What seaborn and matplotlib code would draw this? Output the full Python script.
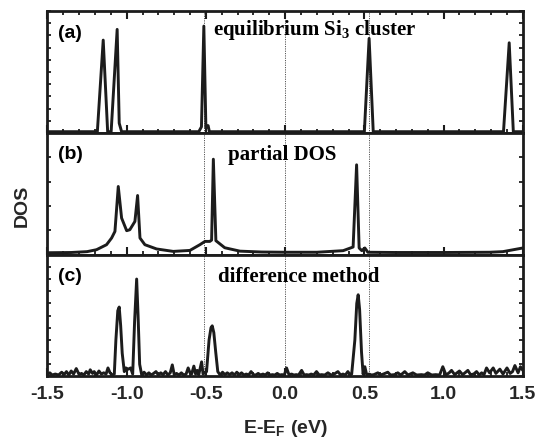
import matplotlib
matplotlib.use("Agg")
import matplotlib.pyplot as plt
from matplotlib.ticker import MultipleLocator
import seaborn as sns
import pandas as pd

# ---- spectra (energy relative to E_F in eV, normalised DOS) ----
a_energy = [-1.500, -1.185, -1.148, -1.120, -1.098, -1.060, -1.047, -1.032,
            -0.545, -0.528, -0.513, -0.500, -0.486, -0.478,
            0.500, 0.530, 0.556, 1.378, 1.414, 1.440, 1.500]
a_dos = [0.010, 0.010, 0.762, 0.010, 0.010, 0.850, 0.080, 0.010,
         0.010, 0.050, 0.877, 0.040, 0.060, 0.010,
         0.010, 0.776, 0.010, 0.010, 0.740, 0.010, 0.010]

b_energy = [-1.500, -1.350, -1.250, -1.190, -1.127, -1.095, -1.074, -1.053,
            -1.032, -1.000, -0.980, -0.948, -0.931, -0.916, -0.885, -0.811,
            -0.706, -0.601, -0.538, -0.506, -0.475, -0.464, -0.453, -0.437,
            -0.381, -0.285, -0.150, 0.000, 0.200, 0.366, 0.429, 0.451,
            0.467, 0.484, 0.503, 0.522, 0.700, 1.000, 1.290, 1.374, 1.500]
b_dos = [0.016, 0.018, 0.025, 0.041, 0.082, 0.137, 0.191, 0.560,
         0.301, 0.197, 0.205, 0.273, 0.486, 0.137, 0.082, 0.047,
         0.027, 0.035, 0.082, 0.109, 0.109, 0.120, 0.784, 0.115,
         0.057, 0.029, 0.022, 0.020, 0.020, 0.033, 0.063, 0.738,
         0.055, 0.033, 0.055, 0.020, 0.018, 0.018, 0.020, 0.025, 0.055]

c_energy = [-1.500, -1.485, -1.470, -1.450, -1.430, -1.410, -1.395, -1.380,
            -1.365, -1.350, -1.335, -1.318, -1.300, -1.285, -1.270, -1.255,
            -1.240, -1.230, -1.215, -1.205, -1.190, -1.175, -1.160, -1.145,
            -1.130, -1.118, -1.105, -1.090, -1.078, -1.068, -1.056, -1.047,
            -1.038, -1.028, -1.015, -1.005, -0.990, -0.975, -0.962, -0.950,
            -0.937, -0.928, -0.918, -0.905, -0.890, -0.875, -0.860, -0.845,
            -0.830, -0.815, -0.800, -0.785, -0.770, -0.755, -0.740, -0.725,
            -0.712, -0.700, -0.685, -0.670, -0.655, -0.640, -0.625, -0.612,
            -0.600, -0.590, -0.576, -0.565, -0.555, -0.545, -0.527, -0.518,
            -0.508, -0.496, -0.480, -0.468, -0.460, -0.450, -0.438, -0.425,
            -0.410, -0.395, -0.380, -0.365, -0.350, -0.335, -0.320, -0.305,
            -0.290, -0.275, -0.260, -0.245, -0.230, -0.215, -0.200, -0.185,
            -0.170, -0.155, -0.140, -0.125, -0.110, -0.095, -0.080, -0.065,
            -0.050, -0.035, -0.020, -0.005, 0.009, 0.025, 0.040, 0.055,
            0.070, 0.085, 0.104, 0.120, 0.135, 0.150, 0.165, 0.180,
            0.198, 0.215, 0.230, 0.250, 0.270, 0.290, 0.310, 0.333,
            0.350, 0.365, 0.380, 0.396, 0.410, 0.420, 0.440, 0.452,
            0.461, 0.470, 0.482, 0.492, 0.503, 0.515, 0.530, 0.545,
            0.560, 0.585, 0.600, 0.620, 0.648, 0.665, 0.690, 0.711,
            0.730, 0.755, 0.775, 0.806, 0.830, 0.860, 0.880, 0.900,
            0.925, 0.950, 0.975, 0.995, 1.015, 1.035, 1.050, 1.070,
            1.085, 1.100, 1.120, 1.135, 1.153, 1.170, 1.190, 1.208,
            1.225, 1.240, 1.255, 1.271, 1.290, 1.313, 1.330, 1.355,
            1.375, 1.400, 1.420, 1.435, 1.450, 1.470, 1.485, 1.500]
c_dos = [0.015, 0.030, 0.012, 0.020, 0.012, 0.035, 0.015, 0.040,
         0.012, 0.045, 0.020, 0.065, 0.015, 0.025, 0.012, 0.040,
         0.020, 0.055, 0.025, 0.040, 0.012, 0.045, 0.020, 0.030,
         0.020, 0.070, 0.030, 0.012, 0.020, 0.300, 0.540, 0.570,
         0.420, 0.190, 0.040, 0.070, 0.060, 0.070, 0.020, 0.450,
         0.800, 0.500, 0.100, 0.012, 0.035, 0.012, 0.030, 0.012,
         0.025, 0.040, 0.012, 0.030, 0.015, 0.040, 0.012, 0.030,
         0.095, 0.015, 0.025, 0.012, 0.030, 0.012, 0.020, 0.070,
         0.030, 0.020, 0.085, 0.020, 0.050, 0.015, 0.120, 0.020,
         0.030, 0.040, 0.300, 0.400, 0.416, 0.360, 0.200, 0.040,
         0.012, 0.035, 0.015, 0.030, 0.015, 0.030, 0.012, 0.035,
         0.015, 0.030, 0.012, 0.020, 0.012, 0.040, 0.015, 0.012,
         0.025, 0.012, 0.020, 0.012, 0.030, 0.012, 0.015, 0.012,
         0.025, 0.012, 0.015, 0.012, 0.070, 0.012, 0.020, 0.012,
         0.015, 0.012, 0.050, 0.012, 0.015, 0.012, 0.020, 0.012,
         0.040, 0.012, 0.015, 0.012, 0.030, 0.012, 0.020, 0.040,
         0.012, 0.020, 0.012, 0.040, 0.012, 0.020, 0.300, 0.600,
         0.671, 0.550, 0.200, 0.020, 0.080, 0.012, 0.020, 0.012,
         0.015, 0.030, 0.012, 0.020, 0.035, 0.012, 0.015, 0.030,
         0.012, 0.040, 0.012, 0.030, 0.012, 0.015, 0.012, 0.030,
         0.012, 0.015, 0.012, 0.080, 0.012, 0.030, 0.050, 0.015,
         0.030, 0.045, 0.015, 0.030, 0.050, 0.015, 0.020, 0.040,
         0.012, 0.030, 0.015, 0.070, 0.030, 0.070, 0.025, 0.060,
         0.020, 0.070, 0.025, 0.040, 0.090, 0.030, 0.080, 0.050]

panel_tags = ["(a)", "(b)", "(c)"]
panel_titles = [r"equilibrium Si$_\mathrm{3}$ cluster", "partial DOS",
                "difference method"]
reference_energies = [-0.51, 0.0, 0.53]
x_ticks = [-1.5, -1.0, -0.5, 0.0, 0.5, 1.0, 1.5]
x_tick_labels = ["-1.5", "-1.0", "-0.5", "0.0", "0.5", "1.0", "1.5"]

sns.set_style("ticks")
plt.rcParams["font.family"] = ["Liberation Sans", "DejaVu Sans"]
plt.rcParams["mathtext.fontset"] = "custom"
plt.rcParams["mathtext.rm"] = "Liberation Serif:bold"
plt.rcParams["mathtext.sf"] = "Liberation Sans:bold"

ink = "#1c1c1c"
fig = plt.figure(figsize=(5.39, 4.45), dpi=100)
gs = fig.add_gridspec(3, 1, left=0.088, right=0.970, top=0.975,
                      bottom=0.154, hspace=0.0)
axes = [fig.add_subplot(gs[i]) for i in range(3)]

spectra = [(a_energy, a_dos), (b_energy, b_dos), (c_energy, c_dos)]
y_steps = [0.1, 0.2, 0.1]
title_x = [-0.456, -0.361, -0.424]
title_y = [0.845, 0.82, 0.82]

for i, ax in enumerate(axes):
    energy, dos = spectra[i]
    df = pd.DataFrame({"E": energy, "DOS": dos})
    sns.lineplot(data=df, x="E", y="DOS", ax=ax, color=ink, lw=2.1,
                 estimator=None, sort=False)
    for e in reference_energies:
        ax.axvline(e, color="#555555", lw=0.7, ls=(0, (1.2, 1.2)), zorder=0)
    ax.set_xlim(-1.5, 1.5)
    ax.set_ylim(0, 1)
    ax.set_xlabel("")
    ax.set_ylabel("")
    ax.xaxis.set_major_locator(MultipleLocator(0.5))
    ax.xaxis.set_minor_locator(MultipleLocator(0.1))
    ax.yaxis.set_major_locator(MultipleLocator(y_steps[i]))
    ax.tick_params(axis="x", which="major", direction="in", length=5.5,
                   width=1.5, top=(i == 0), bottom=True, color=ink)
    ax.tick_params(axis="x", which="minor", direction="in", length=3,
                   width=1.3, top=(i == 0), bottom=True, color=ink)
    ax.tick_params(axis="y", which="major", direction="in", length=3,
                   width=1.3, left=True, right=True, labelleft=False,
                   color=ink)
    for sp in ax.spines.values():
        sp.set_visible(True)
        sp.set_linewidth(2.0)
        sp.set_color(ink)
    if i < 2:
        ax.tick_params(axis="x", labelbottom=False)
    ax.text(0.022, 0.82, panel_tags[i], transform=ax.transAxes,
            fontsize=14, fontweight="bold", va="center", ha="left",
            color="black")
    ax.text(title_x[i], title_y[i], panel_titles[i],
            transform=ax.get_xaxis_transform(), fontsize=15,
            fontweight="bold", family="Liberation Serif", va="center",
            ha="left", color="black")

bottom = axes[2]
bottom.set_xticks(x_ticks)
bottom.set_xticklabels(x_tick_labels, fontsize=14, fontweight="bold")
bottom.tick_params(axis="x", which="major", pad=7)
bottom.set_xlabel(r"E-E$_\mathsf{F}$ (eV)", fontsize=14, fontweight="bold",
                  labelpad=11)
fig.text(0.041, 0.537, "DOS", rotation=90, fontsize=14, fontweight="bold",
         va="center", ha="center")

fig.savefig("out.png", dpi=100)
